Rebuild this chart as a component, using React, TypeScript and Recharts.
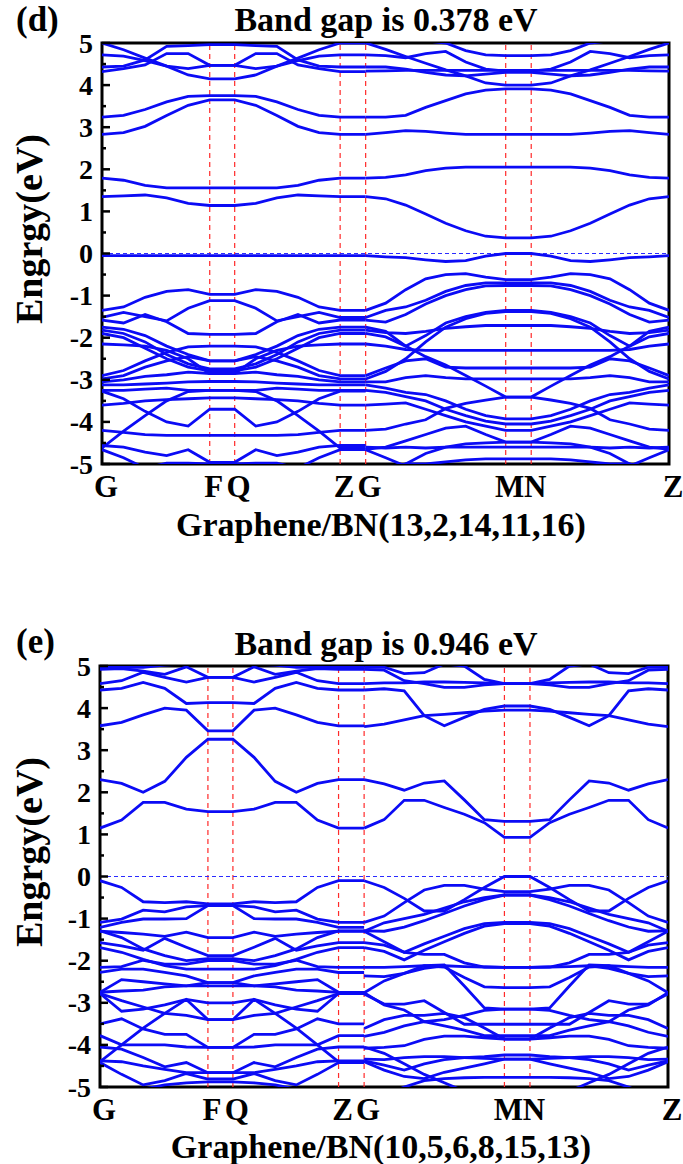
import { LineChart, Line, XAxis, YAxis, ReferenceLine, ReferenceArea } from "recharts"

// k-path positions (fraction of path length) and their labels
const kF = 0.19
const kQ = 0.234
const kZ = 0.42
const kG2 = 0.465
const kM = 0.712
const kN = 0.757
const kEnd = 1
const kTicks = [0, kF, kQ, kZ, kG2, kM, kN, kEnd]
const kLabels = ["G", "F", "Q", "Z", "G", "M", "N", "Z"]
const eTicks = [-5, -4.5, -4, -3.5, -3, -2.5, -2, -1.5, -1, -0.5, 0, 0.5, 1, 1.5, 2, 2.5, 3, 3.5, 4, 4.5, 5]

// panel (d): energies on G -> F (6 k-points), Q -> Z is its mirror
const dLeft: number[][] = [
  [3.24, 3.28, 3.42, 3.6, 3.73, 3.75],
  [2.83, 2.87, 3.02, 3.28, 3.52, 3.65],
  [1.79, 1.74, 1.62, 1.56, 1.56, 1.56],
  [1.35, 1.37, 1.39, 1.32, 1.19, 1.14],
  [4.32, 4.39, 4.48, 4.75, 4.75, 4.47],
  [4.43, 4.45, 4.6, 4.92, 4.94, 4.96],
  [4.72, 4.69, 4.58, 4.45, 4.39, 4.47],
  [5.0, 4.84, 4.64, 4.45, 4.24, 4.15],
  [-0.05, -0.05, -0.05, -0.05, -0.05, -0.05],
  [-1.35, -1.27, -1.04, -0.9, -0.86, -0.97],
  [-1.52, -1.4, -1.5, -1.6, -1.3, -1.12],
  [-1.58, -1.65, -1.45, -1.62, -1.9, -1.92],
  [-1.75, -1.8, -1.95, -2.2, -2.4, -2.55],
  [-1.82, -1.9, -2.1, -2.4, -2.62, -2.74],
  [-1.9, -2.0, -2.25, -2.5, -2.7, -2.79],
  [-2.15, -2.17, -2.2, -2.3, -2.5, -2.85],
  [-2.9, -2.78, -2.55, -2.35, -2.22, -2.2],
  [-2.98, -2.9, -2.7, -2.55, -2.45, -2.55],
  [-3.05, -3.0, -2.92, -2.88, -2.82, -2.85],
  [-3.12, -3.12, -3.1, -3.08, -3.05, -3.04],
  [-3.25, -3.25, -3.22, -3.2, -3.25, -3.25],
  [-3.27, -3.45, -3.75, -4.0, -4.1, -3.7],
  [-3.6, -3.56, -3.5, -3.47, -3.45, -3.43],
  [-4.2, -4.25, -4.3, -4.32, -4.32, -4.32],
  [-4.62, -4.22, -3.85, -3.5, -3.28, -3.25],
  [-4.56, -4.6, -4.72, -4.8, -4.66, -4.96],
  [-4.66, -4.85, -5.1, -5.25, -5.25, -5.25],
  [-5.5, -5.3, -5.1, -4.98, -4.98, -5.0],
]

// panel (d): energies on G -> M (8 k-points), N -> Z is its mirror
const dRight: number[][] = [
  [3.24, 3.24, 3.28, 3.47, 3.63, 3.79, 3.88, 3.91],
  [2.83, 2.87, 2.92, 2.9, 2.86, 2.83, 2.83, 2.83],
  [1.79, 1.81, 1.87, 1.97, 2.03, 2.05, 2.05, 2.05],
  [1.35, 1.3, 1.15, 0.94, 0.72, 0.54, 0.41, 0.37],
  [5.0, 4.85, 4.68, 4.52, 4.36, 4.22, 4.05, 4.0],
  [4.72, 4.7, 4.65, 4.75, 4.8, 4.55, 4.38, 4.33],
  [4.43, 4.43, 4.38, 4.3, 4.24, 4.22, 4.26, 4.3],
  [4.33, 4.34, 4.35, 4.35, 4.35, 4.35, 4.35, 4.35],
  [5.3, 5.25, 5.15, 5.05, 5.0, 4.82, 4.72, 4.7],
  [-0.05, -0.08, -0.1, -0.15, -0.19, -0.17, -0.06, 0.0],
  [-1.35, -1.18, -0.86, -0.6, -0.5, -0.48, -0.56, -0.62],
  [-1.52, -1.35, -1.27, -1.11, -0.9, -0.76, -0.7, -0.7],
  [-1.58, -1.63, -1.45, -1.2, -1.0, -0.86, -0.77, -0.76],
  [-1.75, -1.85, -2.2, -1.95, -1.65, -1.5, -1.4, -1.35],
  [-1.82, -1.88, -1.9, -1.85, -1.78, -1.74, -1.71, -1.71],
  [-1.9, -1.98, -2.2, -2.45, -2.65, -2.9, -3.15, -3.41],
  [-2.15, -2.2, -2.28, -2.3, -2.3, -2.3, -2.3, -2.3],
  [-2.9, -2.72, -2.55, -2.5, -2.7, -2.72, -2.72, -2.72],
  [-2.98, -2.8, -2.5, -2.1, -1.75, -1.55, -1.42, -1.38],
  [-3.05, -3.05, -2.95, -2.9, -2.95, -2.98, -2.98, -2.98],
  [-3.12, -3.2, -3.3, -3.35, -3.5, -3.7, -3.85, -3.93],
  [-3.25, -3.3, -3.4, -3.5, -3.7, -3.85, -3.98, -4.05],
  [-3.6, -3.58, -3.55, -3.7, -3.85, -4.0, -4.1, -4.2],
  [-4.2, -4.17, -4.05, -3.95, -3.68, -3.56, -3.48, -3.41],
  [-4.6, -4.62, -4.6, -4.62, -4.6, -4.6, -4.6, -4.6],
  [-4.65, -4.6, -4.45, -4.3, -4.15, -4.1, -4.3, -4.48],
  [-4.66, -4.85, -5.05, -5.2, -5.3, -5.3, -5.3, -5.3],
  [-5.5, -5.3, -5.0, -4.75, -4.6, -4.52, -4.5, -4.48],
  [-5.2, -5.1, -5.0, -5.0, -4.95, -4.9, -4.88, -4.88],
]

// panel (e): G -> F
const eLeft: number[][] = [
  [2.3, 2.21, 2.0, 2.26, 2.83, 3.26],
  [1.15, 1.34, 1.76, 1.76, 1.6, 1.54],
  [3.58, 3.66, 3.84, 4.0, 3.95, 3.46],
  [4.43, 4.47, 4.61, 4.47, 4.11, 4.13],
  [4.58, 4.65, 4.85, 4.73, 4.62, 4.73],
  [4.92, 4.94, 4.88, 4.8, 4.98, 4.73],
  [4.97, 4.97, 4.97, 5.02, 5.05, 5.05],
  [-0.1, -0.26, -0.6, -0.62, -0.6, -0.65],
  [-1.09, -1.01, -0.8, -0.84, -0.72, -0.69],
  [-1.21, -1.09, -1.01, -1.01, -1.0, -0.69],
  [-1.3, -1.33, -1.37, -1.42, -1.32, -1.45],
  [-1.29, -1.45, -1.72, -1.88, -2.0, -1.95],
  [-1.57, -1.65, -1.75, -1.47, -1.68, -1.88],
  [-1.69, -1.8, -1.97, -2.12, -2.2, -2.2],
  [-2.16, -2.14, -1.99, -2.08, -2.08, -2.0],
  [-2.28, -2.2, -2.2, -2.28, -2.36, -2.52],
  [-2.75, -2.45, -2.5, -2.55, -2.6, -2.52],
  [-2.75, -2.72, -2.7, -2.62, -2.6, -2.6],
  [-2.78, -3.2, -3.15, -3.05, -2.92, -3.0],
  [-2.78, -2.95, -3.1, -3.25, -3.3, -3.4],
  [-4.4, -4.0, -3.6, -3.25, -2.92, -3.4],
  [-3.5, -3.38, -3.62, -3.75, -3.75, -4.06],
  [-3.78, -4.0, -4.0, -4.0, -4.05, -4.06],
  [-4.05, -4.1, -4.3, -4.52, -4.42, -4.66],
  [-4.38, -4.4, -4.5, -4.58, -4.66, -4.66],
  [-4.42, -4.7, -4.95, -4.85, -4.68, -4.81],
  [-5.3, -5.2, -5.05, -4.95, -4.9, -4.88],
]

// panel (e): G -> M
const eRight: number[][] = [
  [2.3, 2.2, 2.05, 2.22, 2.27, 1.82, 1.35, 1.31],
  [1.15, 1.35, 1.81, 1.81, 1.64, 1.48, 1.28, 0.93],
  [3.56, 3.62, 3.72, 3.82, 3.85, 3.89, 3.93, 3.95],
  [4.43, 4.46, 4.41, 3.82, 3.58, 3.78, 3.97, 4.05],
  [4.58, 4.6, 4.6, 4.62, 4.62, 4.61, 4.6, 4.58],
  [4.92, 4.9, 4.65, 4.58, 4.49, 4.49, 4.55, 4.58],
  [4.97, 4.97, 4.82, 4.84, 5.05, 5.0, 4.68, 4.58],
  [-0.1, -0.26, -0.52, -0.82, -0.82, -0.55, -0.26, 0.0],
  [-1.09, -0.94, -0.62, -0.32, -0.21, -0.21, -0.3, -0.36],
  [-1.3, -1.1, -1.0, -0.9, -0.75, -0.6, -0.5, -0.44],
  [-1.29, -1.3, -1.2, -1.05, -0.88, -0.7, -0.55, -0.44],
  [-1.3, -1.55, -1.8, -1.85, -1.85, -2.05, -2.15, -2.16],
  [-1.57, -1.63, -1.8, -1.6, -1.42, -1.24, -1.12, -1.09],
  [-1.69, -1.78, -1.98, -1.75, -1.55, -1.35, -1.18, -1.12],
  [-2.16, -2.16, -2.14, -2.12, -2.15, -2.4, -2.62, -2.64],
  [-2.36, -2.38, -2.3, -2.12, -2.1, -2.6, -3.12, -3.15],
  [-2.76, -2.48, -2.3, -2.18, -2.12, -2.14, -2.15, -2.16],
  [-2.76, -3.05, -3.17, -3.45, -3.55, -3.65, -3.78, -3.78],
  [-2.79, -3.03, -3.03, -2.95, -3.23, -3.51, -3.51, -3.51],
  [-3.61, -3.4, -3.3, -3.3, -3.25, -3.35, -3.6, -3.86],
  [-3.8, -3.7, -3.55, -3.45, -3.4, -3.3, -3.18, -3.15],
  [-4.08, -4.06, -4.02, -3.87, -3.79, -3.79, -3.83, -3.86],
  [-4.34, -4.35, -4.3, -4.28, -4.28, -4.3, -4.32, -4.34],
  [-4.38, -4.48, -4.6, -4.45, -4.35, -4.3, -4.28, -4.24],
  [-4.4, -4.6, -4.75, -4.8, -4.65, -4.55, -4.45, -4.34],
  [-5.3, -5.2, -5.0, -4.85, -4.8, -4.78, -4.77, -4.77],
  [-4.05, -4.2, -4.45, -4.7, -4.9, -5.1, -5.2, -5.2],
]

const BLUE = "#0b0bf5"
const RED = "#ff2a2a"
const FONT = '"Liberation Serif", "Times New Roman", serif'
const Y_AXIS_W = 60
const X_AXIS_H = 40

// G-F, flat F-Q, mirrored Q-Z, flat Z-G
function leftPath(v: number[]) {
  const a = v.map((e, i) => ({ k: (i * kF) / 5, e }))
  const b = [...v].reverse().map((e, i) => ({ k: kQ + (i * (kZ - kQ)) / 5, e }))
  return [...a, ...b, { k: kG2, e: v[0] }]
}

// G-M, flat M-N, mirrored N-Z
function rightPath(w: number[]) {
  const a = w.map((e, i) => ({ k: kG2 + (i * (kM - kG2)) / 7, e }))
  const b = [...w].reverse().map((e, i) => ({ k: kN + (i * (kEnd - kN)) / 7, e }))
  return [...a, ...b]
}

type PanelProps = {
  top: number
  height: number
  plotTop: number
  plotBottom: number
  plotLeft: number
  plotRight: number
  left: number[][]
  right: number[][]
}

function BandPanel({ top, height, plotTop, plotBottom, plotLeft, plotRight, left, right }: PanelProps) {
  const series = [...left.map(leftPath), ...right.map(rightPath)]
  const tickBase = plotBottom - top + 33

  return (
    <div style={{ position: "absolute", left: 0, top }}>
      <LineChart
        width={683}
        height={height}
        margin={{
          top: plotTop - top,
          bottom: top + height - plotBottom - X_AXIS_H,
          left: plotLeft - Y_AXIS_W,
          right: 683 - plotRight,
        }}
      >
        <XAxis
          type="number"
          dataKey="k"
          domain={[0, 1]}
          ticks={kTicks}
          interval={0}
          height={X_AXIS_H}
          axisLine={false}
          tickLine={false}
          allowDataOverflow
          tick={(p: any) => (
            <text
              key={p.index}
              x={p.x + 4}
              y={tickBase}
              textAnchor="middle"
              fontFamily={FONT}
              fontWeight="bold"
              fontSize={31}
              fill="#000"
            >
              {kLabels[p.index]}
            </text>
          )}
        />
        <YAxis
          type="number"
          domain={[-5, 5]}
          ticks={eTicks}
          interval={0}
          width={Y_AXIS_W}
          axisLine={false}
          tickLine={false}
          allowDataOverflow
          tick={(p: any) => {
            const v = p.payload.value
            const major = Number.isInteger(v)
            return (
              <g key={p.index}>
                <line x1={plotLeft} x2={plotLeft + (major ? 8 : 4)} y1={p.y} y2={p.y} stroke="#000" strokeWidth={2.5} />
                {major && (
                  <text
                    x={plotLeft - 9}
                    y={p.y}
                    dy="0.34em"
                    textAnchor="end"
                    fontFamily={FONT}
                    fontWeight="bold"
                    fontSize={28}
                    fill="#000"
                  >
                    {v}
                  </text>
                )}
              </g>
            )
          }}
        />
        {kTicks.slice(1, -1).map((k) => (
          <ReferenceLine key={k} x={k} stroke={RED} strokeWidth={1.2} strokeDasharray="5 4" />
        ))}
        <ReferenceLine y={0} stroke="#2b2bff" strokeWidth={1} strokeDasharray="4 3" />
        {series.map((d, i) => (
          <Line
            key={i}
            data={d}
            dataKey="e"
            type="linear"
            stroke={BLUE}
            strokeWidth={2.8}
            dot={false}
            activeDot={false}
            isAnimationActive={false}
          />
        ))}
        <ReferenceArea x1={0} x2={1} y1={-5} y2={5} fill="none" fillOpacity={0} stroke="#000" strokeWidth={3} />
      </LineChart>
    </div>
  )
}

function Labels() {
  const t = { fontFamily: FONT, fontWeight: "bold" as const, fill: "#000" }
  return (
    <svg width={683} height={1164} style={{ position: "absolute", left: 0, top: 0, pointerEvents: "none" }}>
      <text x={16} y={31} fontSize={35} {...t}>(d)</text>
      <text x={386} y={31} fontSize={34} textAnchor="middle" {...t}>Band gap is 0.378 eV</text>
      <text x={42} y={229} fontSize={38} textAnchor="middle" transform="rotate(-90 42 229)" {...t}>Engrgy(eV)</text>
      <text x={381} y={536} fontSize={34} textAnchor="middle" {...t}>Graphene/BN(13,2,14,11,16)</text>

      <text x={16} y={653} fontSize={35} {...t}>(e)</text>
      <text x={386} y={655} fontSize={34} textAnchor="middle" {...t}>Band gap is 0.946 eV</text>
      <text x={42} y={852} fontSize={38} textAnchor="middle" transform="rotate(-90 42 852)" {...t}>Engrgy(eV)</text>
      <text x={381} y={1158} fontSize={34} textAnchor="middle" {...t}>Graphene/BN(10,5,6,8,15,13)</text>
    </svg>
  )
}

export default function App() {
  return (
    <div style={{ position: "absolute", left: 0, top: 0, width: 683, height: 1164, background: "#fff" }}>
      <BandPanel top={0} height={580} plotTop={43} plotBottom={464} plotLeft={102} plotRight={669} left={dLeft} right={dRight} />
      <BandPanel top={580} height={584} plotTop={666} plotBottom={1087} plotLeft={100} plotRight={668} left={eLeft} right={eRight} />
      <Labels />
    </div>
  )
}
